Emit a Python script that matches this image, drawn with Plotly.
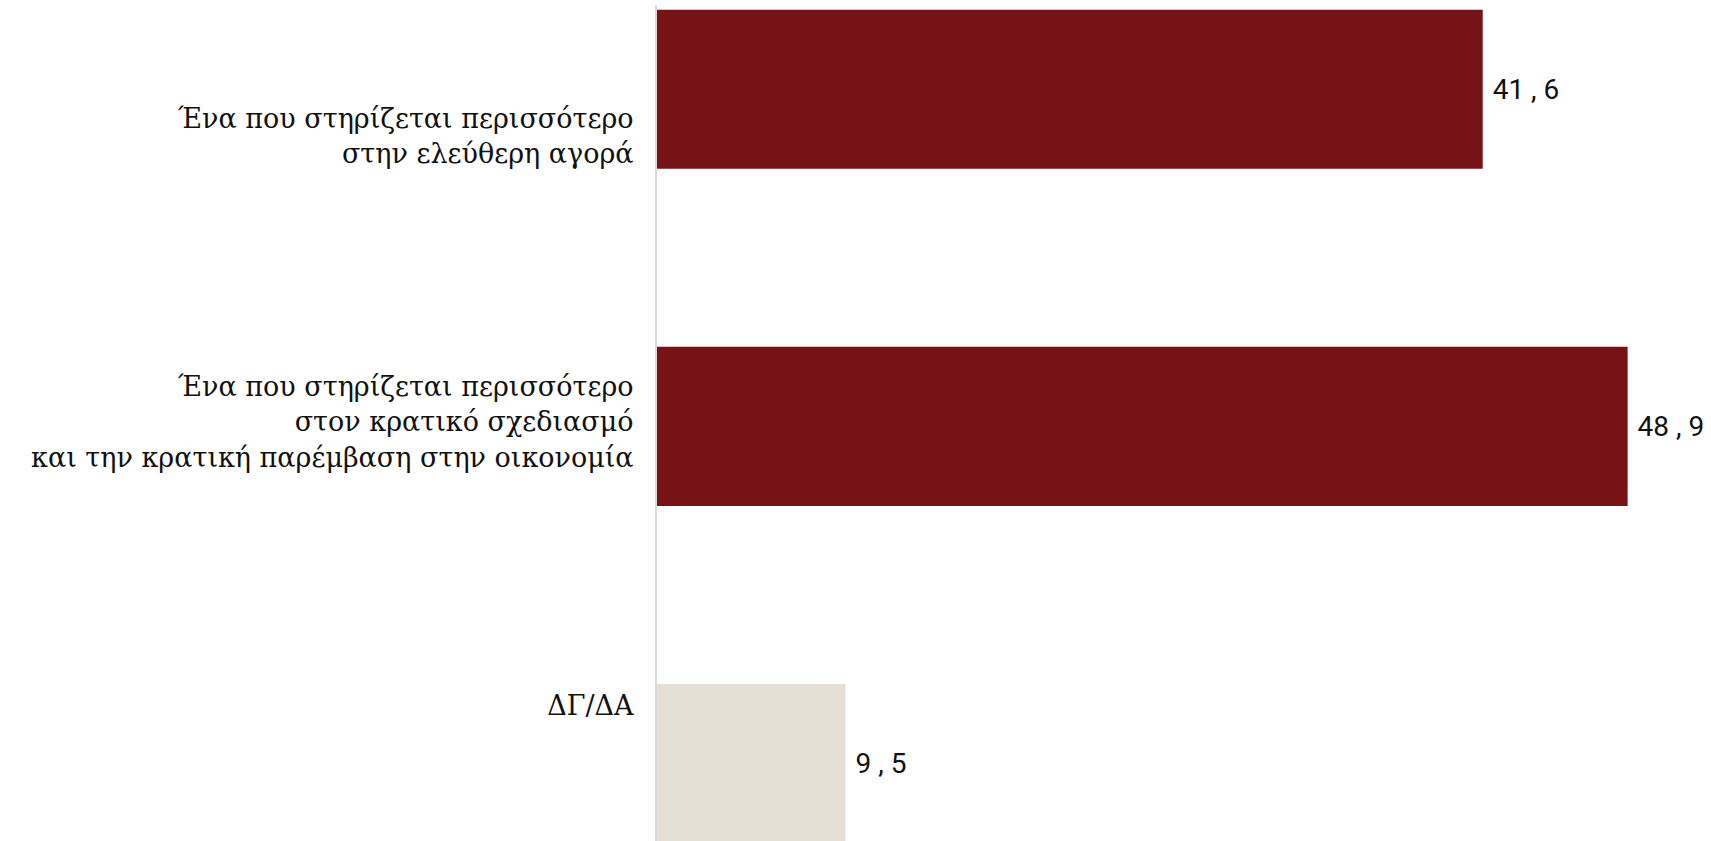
import plotly.graph_objects as go

categories = [
    "Ένα που στηρίζεται περισσότερο<br>στην ελεύθερη αγορά",
    "Ένα που στηρίζεται περισσότερο<br>στον κρατικό σχεδιασμό<br>και την κρατική παρέμβαση στην οικονομία",
    "ΔΓ/ΔΑ",
]
values = [41.6, 48.9, 9.5]
colors = ["#771317", "#771317", "#E6DFD5"]
value_labels = [" " + f"{v:.1f}".replace(".", " , ") for v in values]

positions = list(range(len(categories)))
label_offsets = [0.14, -0.013, -0.172]
tick_positions = [p + o for p, o in zip(positions, label_offsets)]

fig = go.Figure(
    go.Bar(
        x=values,
        y=positions,
        orientation="h",
        marker=dict(color=colors, line=dict(width=0)),
        width=0.472,
        text=value_labels,
        textposition="outside",
        cliponaxis=False,
        constraintext="none",
        textfont=dict(family="Roboto", size=28, color="#111111"),
        hoverinfo="skip",
    )
)

fig.update_layout(
    width=1711,
    height=841,
    margin=dict(l=657, r=0, t=5, b=0),
    paper_bgcolor="white",
    plot_bgcolor="white",
    showlegend=False,
    xaxis=dict(visible=False, range=[0, 53.1], fixedrange=True),
    yaxis=dict(
        range=[2.23, -0.25],
        tickmode="array",
        tickvals=tick_positions,
        ticktext=categories,
        showgrid=False,
        zeroline=False,
        showline=True,
        linecolor="#D9D9D9",
        linewidth=2,
        ticks="",
        ticklabelstandoff=16,
        tickfont=dict(family="DejaVu Serif", size=27, color="#111111"),
        fixedrange=True,
    ),
)

fig.write_html(
    "out.html",
    config={"displayModeBar": False},
    post_script="document.body.style.margin='0';",
)
